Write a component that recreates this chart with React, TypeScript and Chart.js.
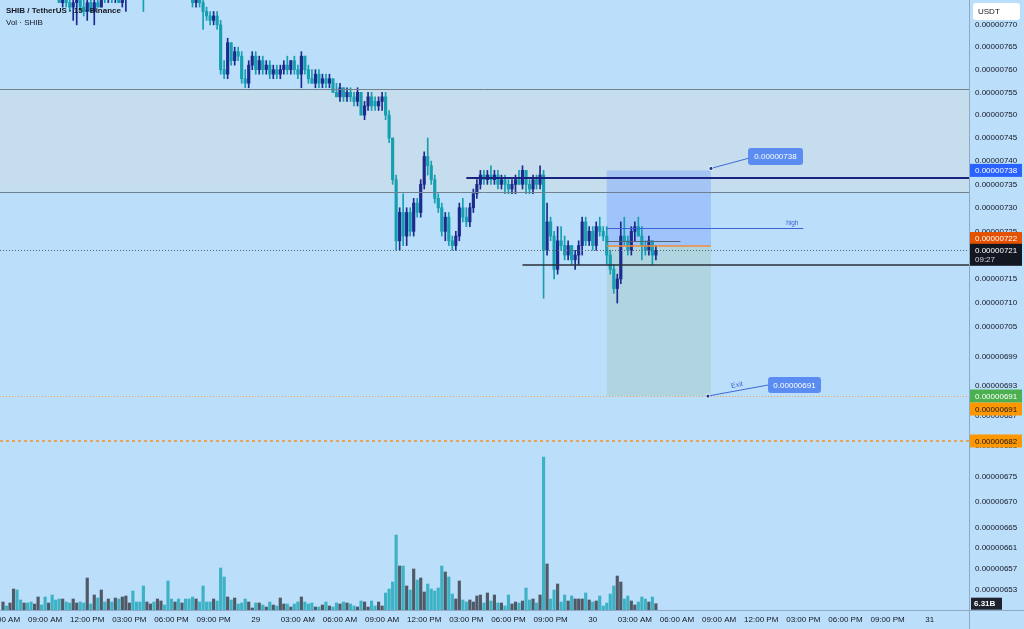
import React, { useEffect, useRef } from "react";
import { Chart, registerables } from "chart.js";

Chart.register(...registerables);

// Prices are in units of 0.00000001 USDT (721 -> 0.00000721); 15-minute candles from 28th 06:00 AM
const OPEN = [
  781,782,780,781,784,783,781,782,780,779, 780,781,779,778,779,778,777,775,777,775,
  774,775,776,774,773,775,773,775,774,777, 776,778,776,777,775,777,779,781,780,779,
  778,777,779,781,780,781,783,782,781,780, 781,779,780,778,777,775,776,775,773,772,
  771,772,770,760,759,766,762,764,763,758, 757,761,763,760,762,760,761,759,760,759,
  760,761,760,762,760,759,763,760,758,757, 759,757,758,757,758,755,754,756,754,755,
  754,753,755,750,752,754,753,752,753,754, 750,745,736,723,729,724,729,725,731,729,
  735,741,739,736,732,730,725,728,723,722, 724,730,728,727,730,733,735,737,736,737,
  736,737,735,736,735,734,735,736,735,738, 735,734,736,735,737,721,727,724,717,723,
  722,720,722,719,720,722,727,723,725,722, 726,725,724,720,717,713,715,724,723,721,
  725,726,724,722,721,723,720,
];
const HIGH = [
  783,784,782,785,786,784,783,783,782,781, 782,782,781,780,780,779,778,778,778,777,
  777,777,777,776,776,776,776,777,778,778, 779,779,778,778,778,780,782,783,782,781,
  780,780,782,783,782,784,785,784,783,782, 782,781,781,780,778,777,777,776,774,773,
  773,773,771,762,767,766,765,765,764,760, 762,764,764,763,763,762,762,761,761,761,
  762,763,762,763,761,764,763,761,760,760, 760,759,759,759,758,757,757,756,756,756,
  755,756,755,753,755,755,754,754,755,755, 751,745,737,730,733,730,730,732,732,736,
  742,745,740,737,733,731,729,729,724,725, 731,732,730,731,734,736,738,738,738,739,
  738,738,737,737,736,736,737,738,739,738, 736,737,737,739,738,731,728,725,726,726,
  724,723,722,721,723,728,728,726,726,727, 728,726,726,721,718,716,727,728,724,726,
  727,728,726,723,724,723,722,
];
const LOW = [
  779,780,778,780,782,780,779,779,778,777, 778,778,777,777,777,776,775,774,774,773,
  771,770,773,772,771,773,770,774,774,775, 775,775,775,775,774,773,778,779,778,777,
  773,776,778,779,778,780,781,780,779,778, 778,777,777,776,774,774,774,769,771,770,
  770,769,759,758,758,761,761,762,757,756, 756,760,759,759,759,759,758,758,758,758,
  759,759,759,759,758,756,759,757,757,756, 756,756,756,756,755,754,753,753,753,753,
  752,752,750,749,751,751,751,751,751,749, 744,735,721,721,722,722,724,724,728,728,
  734,737,735,731,729,724,723,722,721,721, 723,727,726,726,729,732,734,735,735,735,
  735,734,734,733,733,733,733,735,734,733, 733,733,734,734,711,720,723,715,716,721,
  719,719,718,717,718,720,722,722,721,721, 724,723,718,716,712,710,714,722,720,720,
  723,724,719,720,720,718,719,
];
const CLOSE = [
  782,780,781,784,783,781,782,780,779,780, 781,779,778,779,778,777,775,777,775,774,
  775,776,774,773,775,773,775,774,777,776, 778,776,777,775,777,779,781,780,779,778,
  777,779,781,780,781,783,782,781,780,781, 779,780,778,777,775,776,775,773,772,771,
  772,770,760,759,766,762,764,763,758,757, 761,763,760,762,760,761,759,760,759,760,
  761,760,762,760,759,763,760,758,757,759, 757,758,757,758,755,754,756,754,755,754,
  753,755,750,752,754,752,752,753,754,750, 745,736,723,729,724,729,725,731,729,735,
  741,739,736,732,730,725,728,723,722,724, 730,728,727,730,733,735,737,736,737,736,
  737,735,736,735,734,735,736,735,738,735, 734,736,735,737,721,727,724,717,723,722,
  720,722,719,720,722,727,723,725,722,726, 725,724,720,717,713,715,724,723,721,725,
  726,724,722,721,723,720,721,
];
// Volume in billions of SHIB
const VOLUME = [
  8,4,7,21,20,10,7,7,8,6, 13,5,13,7,15,10,11,11,8,7,
  11,7,8,7,32,6,15,12,20,8, 11,8,12,11,13,14,7,19,8,8,
  24,8,6,8,11,9,5,29,11,8, 11,7,11,11,13,11,8,24,8,8,
  11,9,42,33,13,10,12,6,7,11, 8,2,7,7,5,3,8,5,4,12,
  6,6,3,6,8,13,8,6,7,3, 3,5,8,4,3,7,6,8,7,6,
  4,3,9,8,3,9,4,8,4,17, 21,28,75,44,44,24,20,41,30,32,
  18,26,21,19,22,44,38,33,16,11, 29,10,8,10,8,14,15,7,17,9,
  15,7,7,4,15,6,8,7,9,22, 10,11,7,15,153,46,11,20,26,8,
  15,9,14,11,11,11,17,10,8,9, 14,4,7,16,24,34,28,11,14,9,
  5,8,13,11,8,13,6.31,
];

const X_TICK_LABELS = [
  "06:00 AM","09:00 AM","12:00 PM","03:00 PM","06:00 PM","09:00 PM","29",
  "03:00 AM","06:00 AM","09:00 AM","12:00 PM","03:00 PM","06:00 PM","09:00 PM","30",
  "03:00 AM","06:00 AM","09:00 AM","12:00 PM","03:00 PM","06:00 PM","09:00 PM","31",
];
const CANDLES_PER_LABEL = 12;
const Y_TICKS = [770,765,760,755,750,745,740,735,730,725,720,715,710,705,699,693,687,681,675,670,665,661,657,653];
const X_RANGE = [-0.855, 275.2];
const Y_RANGE = [649.2, 775.6];
const VOLUME_RANGE = [0, 610];

// drawings (candle index / price)
const ZONE = [733.4, 755.8];
const NAVY_RAY = [132, 736.3];
const SUPPORT_RAY = [148, 718];
const HIGH_SEGMENT = [172, 228, 725.6];
const POSITION_RANGE = [172, 201.7];
const POSITION_LEVELS = [722, 738, 691]; // entry, stop, target
const AVG_SEGMENT = [172, 193, 723];
const LAST_PRICE = 721;
const ALERT_LEVEL = 682;
const COUNTDOWN = "09:27";
const LAST_VOLUME_LABEL = "6.31B";

const BG = "#bbdefb";
const UP = "#1b2a8c";
const DOWN = "#159fb0";
const VOL_UP = "#505966";
const VOL_DOWN = "#3db2c4";
const FONT = '"Liberation Sans", Arial, Helvetica, sans-serif';
const fmt = (p: number) => (p / 1e8).toFixed(8);

const overlay = {
  id: "tvOverlay",
  beforeDraw(chart: any) {
    const { ctx, width, height } = chart;
    ctx.save();
    ctx.fillStyle = BG;
    ctx.fillRect(0, 0, width, height);
    ctx.restore();
  },
  beforeDatasetsDraw(chart: any) {
    const { ctx, chartArea: a, scales } = chart;
    const X = (v: number) => scales.x.getPixelForValue(v);
    const Y = (v: number) => scales.y.getPixelForValue(v);
    ctx.save();
    ctx.beginPath();
    ctx.rect(a.left, a.top, a.right - a.left, a.bottom - a.top);
    ctx.clip();
    const zt = Y(ZONE[1]);
    const zb = Y(ZONE[0]);
    ctx.fillStyle = "rgba(208,220,226,0.55)";
    ctx.fillRect(a.left, zt, a.right - a.left, zb - zt);
    const x1 = X(POSITION_RANGE[0]);
    const x2 = X(POSITION_RANGE[1]);
    const yE = Y(POSITION_LEVELS[0]);
    const yS = Y(POSITION_LEVELS[1]);
    const yT = Y(POSITION_LEVELS[2]);
    ctx.fillStyle = "rgba(110,155,252,0.38)";
    ctx.fillRect(x1, yS, x2 - x1, yE - yS);
    ctx.fillStyle = "rgba(160,200,188,0.4)";
    ctx.fillRect(x1, yE, x2 - x1, yT - yE);
    ctx.restore();
  },
  afterDatasetsDraw(chart: any) {
    const { ctx, chartArea: a, scales } = chart;
    const X = (v: number) => scales.x.getPixelForValue(v);
    const Y = (v: number) => scales.y.getPixelForValue(v);
    const hline = (y: number, xa: number, xb: number, color: string, w: number, dash: number[] = []) => {
      ctx.save();
      ctx.strokeStyle = color;
      ctx.lineWidth = w;
      ctx.setLineDash(dash);
      const yy = w % 2 === 1 ? Math.round(y) + 0.5 : Math.round(y);
      ctx.beginPath();
      ctx.moveTo(xa, yy);
      ctx.lineTo(xb, yy);
      ctx.stroke();
      ctx.restore();
    };
    ctx.save();
    ctx.beginPath();
    ctx.rect(a.left, a.top, a.right - a.left, a.bottom - a.top);
    ctx.clip();
    hline(Y(ZONE[1]), a.left, a.right, "#6f818f", 1);
    hline(Y(ZONE[0]), a.left, a.right, "#6f818f", 1);
    hline(Y(LAST_PRICE), a.left, a.right, "#56606b", 1, [1, 2]);
    hline(Y(POSITION_LEVELS[2]), a.left, a.right, "#f2a24e", 1, [1, 2]);
    hline(Y(ALERT_LEVEL), a.left, a.right, "#f7931e", 1.5, [3, 3]);
    hline(Y(NAVY_RAY[1]), X(NAVY_RAY[0]), a.right, "#1a237e", 2);
    hline(Y(SUPPORT_RAY[1]), X(SUPPORT_RAY[0]), a.right, "#2b2f3a", 1.5);
    hline(Y(HIGH_SEGMENT[2]), X(HIGH_SEGMENT[0]), X(HIGH_SEGMENT[1]), "#3d62d4", 1);
    hline(Y(AVG_SEGMENT[2]), X(AVG_SEGMENT[0]), X(AVG_SEGMENT[1]), "#5a6470", 1);
    hline(Y(POSITION_LEVELS[0]), X(POSITION_RANGE[0]), X(POSITION_RANGE[1]), "#f08a3c", 1.5);

    ctx.fillStyle = "#3d62d4";
    ctx.font = `6.5px ${FONT}`;
    ctx.textAlign = "center";
    ctx.textBaseline = "middle";
    ctx.fillText("high", X(HIGH_SEGMENT[1]) - 11, Y(HIGH_SEGMENT[2]) - 5);

    // position labels
    const dx = X(POSITION_RANGE[1]);
    const dot = (x: number, y: number) => {
      ctx.beginPath();
      ctx.arc(x, y, 2.3, 0, Math.PI * 2);
      ctx.fillStyle = "#ffffff";
      ctx.fill();
      ctx.beginPath();
      ctx.arc(x, y, 1.6, 0, Math.PI * 2);
      ctx.fillStyle = "#1a3a9c";
      ctx.fill();
    };
    const box = (x: number, yc: number, w: number, h: number, text: string) => {
      ctx.fillStyle = "#5a8cf2";
      ctx.beginPath();
      (ctx as any).roundRect(x, yc - h / 2, w, h, 3);
      ctx.fill();
      ctx.fillStyle = "#ffffff";
      ctx.font = `8px ${FONT}`;
      ctx.textAlign = "center";
      ctx.textBaseline = "middle";
      ctx.fillText(text, x + w / 2, yc + 0.5);
    };
    const yS = Y(POSITION_LEVELS[1]);
    const yT = Y(POSITION_LEVELS[2]);
    ctx.strokeStyle = "#3d6ad8";
    ctx.lineWidth = 1;
    ctx.beginPath();
    ctx.moveTo(dx, yS - 2);
    ctx.lineTo(dx + 37, yS - 12);
    ctx.stroke();
    box(dx + 37, yS - 14, 55, 17, fmt(POSITION_LEVELS[1]));
    dot(dx, yS - 2);

    ctx.beginPath();
    ctx.moveTo(dx - 3, yT);
    ctx.lineTo(dx + 57, yT - 11);
    ctx.stroke();
    box(dx + 57, yT - 11, 53, 16, fmt(POSITION_LEVELS[2]));
    dot(dx - 3, yT);
    ctx.save();
    ctx.translate(dx + 26, yT - 11);
    ctx.rotate(Math.atan2(-11, 60));
    ctx.fillStyle = "#3d62d4";
    ctx.font = `7px ${FONT}`;
    ctx.textAlign = "center";
    ctx.textBaseline = "middle";
    ctx.fillText("Exit", 0, 0);
    ctx.restore();
    ctx.restore();
  },
  afterDraw(chart: any) {
    const { ctx, chartArea: a, scales, width, height } = chart;
    const Y = (v: number) => scales.y.getPixelForValue(v);
    // borders
    ctx.save();
    ctx.strokeStyle = "#8fa8c4";
    ctx.lineWidth = 1;
    ctx.beginPath();
    ctx.moveTo(0, Math.round(a.bottom) + 0.5);
    ctx.lineTo(width, Math.round(a.bottom) + 0.5);
    ctx.moveTo(Math.round(a.right) + 0.5, 0);
    ctx.lineTo(Math.round(a.right) + 0.5, height);
    ctx.stroke();

    const xl = a.right + 1;
    const tag = (yc: number, h: number, fill: string, color: string, text: string) => {
      ctx.fillStyle = fill;
      ctx.fillRect(xl, yc - h / 2, 52, h);
      ctx.fillStyle = color;
      ctx.font = `8px ${FONT}`;
      ctx.textAlign = "left";
      ctx.textBaseline = "middle";
      ctx.fillText(text, xl + 5, yc + 0.5);
    };
    tag(Y(POSITION_LEVELS[1]), 13, "#2962ff", "#ffffff", fmt(POSITION_LEVELS[1]));
    tag(Y(POSITION_LEVELS[0]) - 7, 13, "#e65100", "#ffffff", fmt(POSITION_LEVELS[0]));
    // last price with countdown
    const lt = Y(LAST_PRICE) - 6.5;
    ctx.fillStyle = "#131722";
    ctx.fillRect(xl, lt, 52, 22);
    ctx.fillStyle = "#ffffff";
    ctx.font = `8px ${FONT}`;
    ctx.textAlign = "left";
    ctx.textBaseline = "middle";
    ctx.fillText(fmt(LAST_PRICE), xl + 5, lt + 6.5);
    ctx.fillStyle = "#d1d4dc";
    ctx.fillText(COUNTDOWN, xl + 5, lt + 16);
    tag(Y(POSITION_LEVELS[2]), 13, "#4caf50", "#ffffff", fmt(POSITION_LEVELS[2]));
    tag(Y(POSITION_LEVELS[2]) + 13, 13, "#ff9800", "#131722", fmt(POSITION_LEVELS[2]));
    tag(Y(ALERT_LEVEL), 13, "#ff9800", "#131722", fmt(ALERT_LEVEL));

    // last volume tag
    const vy = scales.yv.getPixelForValue(VOLUME[VOLUME.length - 1]);
    ctx.fillStyle = "#1e222d";
    ctx.fillRect(xl + 1, vy - 6, 31, 12);
    ctx.fillStyle = "#ffffff";
    ctx.font = `bold 8px ${FONT}`;
    ctx.fillText(LAST_VOLUME_LABEL, xl + 4, vy + 0.5);

    // currency box
    ctx.fillStyle = "#ffffff";
    ctx.beginPath();
    (ctx as any).roundRect(xl + 3, 3, 47, 17, 3);
    ctx.fill();
    ctx.fillStyle = "#131722";
    ctx.font = `8px ${FONT}`;
    ctx.fillText("USDT", xl + 8, 12);

    // legend title
    ctx.fillStyle = "#131722";
    ctx.font = `bold 8px ${FONT}`;
    ctx.fillText("SHIB / TetherUS · 15 · Binance", 6, 11);
    ctx.font = `8px ${FONT}`;
    ctx.fillText("Vol · SHIB", 6, 23);
    ctx.restore();
  },
};

export default function App() {
  const ref = useRef<HTMLCanvasElement>(null);
  useEffect(() => {
    const canvas = ref.current;
    if (!canvas) return;
    const isUp = OPEN.map((o, i) => CLOSE[i] >= o);
    const chart = new Chart(canvas, {
      type: "bar",
      data: {
        datasets: [
          {
            label: "bodies",
            data: OPEN.map((o, i) => ({ x: i, y: [o, CLOSE[i]] })) as any,
            backgroundColor: isUp.map((u) => (u ? UP : DOWN)),
            barThickness: 2.5,
            minBarLength: 1,
            grouped: false,
            order: 1,
            xAxisID: "x",
            yAxisID: "y",
          },
          {
            label: "wicks",
            data: OPEN.map((_, i) => ({ x: i, y: [LOW[i], HIGH[i]] })) as any,
            backgroundColor: isUp.map((u) => (u ? UP : DOWN)),
            barThickness: 1,
            grouped: false,
            order: 2,
            xAxisID: "x",
            yAxisID: "y",
          },
          {
            label: "volume",
            data: VOLUME.map((v, i) => ({ x: i, y: v })) as any,
            backgroundColor: isUp.map((u) => (u ? VOL_UP : VOL_DOWN)),
            barThickness: 2.5,
            grouped: false,
            order: 3,
            xAxisID: "x",
            yAxisID: "yv",
          },
        ],
      },
      options: {
        responsive: false,
        animation: false,
        devicePixelRatio: 1,
        events: [],
        layout: { padding: 0 },
        plugins: { legend: { display: false }, tooltip: { enabled: false }, title: { display: false } },
        scales: {
          x: {
            type: "linear",
            min: X_RANGE[0],
            max: X_RANGE[1],
            offset: false,
            grid: { display: false, drawTicks: false },
            border: { display: false },
            ticks: {
              autoSkip: false,
              maxRotation: 0,
              minRotation: 0,
              padding: 5,
              color: "#131722",
              font: { family: FONT, size: 8 },
              callback: (v: any) => X_TICK_LABELS[Math.round(Number(v) / CANDLES_PER_LABEL)] ?? "",
            },
            afterBuildTicks: (s: any) => {
              s.ticks = X_TICK_LABELS.map((_, k) => ({ value: k * CANDLES_PER_LABEL }));
            },
            afterFit: (s: any) => {
              s.height = 19;
              s.paddingLeft = 0;
              s.paddingRight = 0;
            },
          },
          y: {
            type: "logarithmic",
            position: "right",
            min: Y_RANGE[0],
            max: Y_RANGE[1],
            bounds: "data",
            grid: { display: false, drawTicks: false },
            border: { display: false },
            ticks: {
              autoSkip: false,
              padding: 6,
              crossAlign: "near",
              color: "#131722",
              font: { family: FONT, size: 8 },
              callback: (v: any) => fmt(Number(v)),
            },
            afterBuildTicks: (s: any) => {
              s.ticks = Y_TICKS.map((v) => ({ value: v }));
            },
            afterFit: (s: any) => {
              s.width = 55;
              s.paddingTop = 0;
              s.paddingBottom = 0;
            },
          },
          yv: {
            type: "linear",
            display: false,
            min: VOLUME_RANGE[0],
            max: VOLUME_RANGE[1],
          },
        },
      } as any,
      plugins: [overlay],
    });
    return () => chart.destroy();
  }, []);
  return (
    <div style={{ position: "fixed", left: 0, top: 0, width: 1024, height: 629, background: BG }}>
      <canvas ref={ref} width={1024} height={629} style={{ display: "block", width: 1024, height: 629 }} />
    </div>
  );
}
